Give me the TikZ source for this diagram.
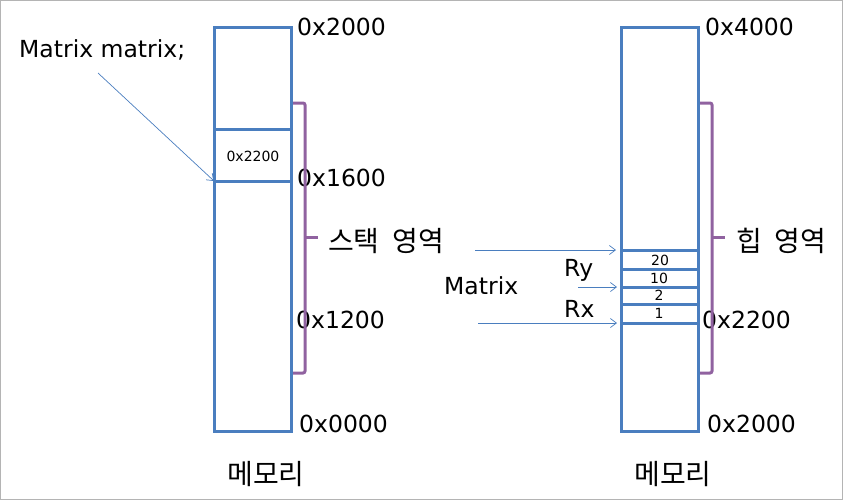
\documentclass[tikz,border=0pt]{standalone}
\usepackage{fontspec}
\setmainfont{DejaVu Sans}
\newfontfamily\kr[WordSpace=2]{Noto Sans CJK KR}
\usetikzlibrary{arrows.meta}
\definecolor{memblue}{HTML}{4A7EBF}
\definecolor{bracepurple}{HTML}{9062A0}
\definecolor{framegray}{HTML}{B4B4B4}

\begin{document}
\begin{tikzpicture}[x=1pt,y=-1pt,
    mem/.style={draw=memblue, line width=3pt, minimum width=77pt, minimum height=404pt, inner sep=0pt},
    cell/.style={draw=memblue, line width=3pt},
    brace/.style={draw=bracepurple, line width=3pt, rounded corners=2pt},
    ptr/.style={draw=memblue, line width=0.7pt, -{Straight Barb[length=6pt,width=9pt]}},
    big/.style={font=\fontsize{23.5}{26}\selectfont, inner sep=0pt, anchor=west},
    hangul/.style={font=\kr\fontsize{28}{32}\selectfont, inner sep=0pt},
    small/.style={font=\fontsize{14}{15}\selectfont, inner sep=0pt}]
        \useasboundingbox (0,0) rectangle (844,501);
        % Cadre
        \draw[framegray, line width=1pt] (0.5,0.5) rectangle (842.5,499.5);
        % Pile
        \node[mem] (stack) at (252.5,229) {};
        \draw[cell] (214,129) -- (291,129);
        \draw[cell] (214,181) -- (291,181);
        \node[small] (stackval) at (253,156) {0x2200};
        \node[big] (sa) at (297,27) {0x2000};
        \node[big] (sb) at (297,178) {0x1600};
        \node[big] (sc) at (296,320) {0x1200};
        \node[big] (sd) at (299,424) {0x0000};
        \node[hangul] (stackmem) at (266,474) {메모리};
        \draw[brace] (293,103) -- (305,103) -- (305,373) -- (293,373);
        \draw[brace] (305,237) -- (318,237);
        \node[hangul, anchor=west] (stackzone) at (328,241) {스택 영역};
        % Tas
        \node[mem] (heap) at (659.5,229) {};
        \foreach \y in {250,269,287,304,323}
            \draw[cell] (621,\y) -- (698,\y);
        \node[small] (v20) at (660,260) {20};
        \node[small] (v10) at (659,278) {10};
        \node[small] (v2) at (659,295) {2};
        \node[small] (v1) at (659,313) {1};
        \node[big] (ha) at (705,27) {0x4000};
        \node[big] (hb) at (702,320) {0x2200};
        \node[big] (hc) at (707,424) {0x2000};
        \node[hangul] (heapmem) at (673,474) {메모리};
        \draw[brace] (700,103) -- (712,103) -- (712,373) -- (700,373);
        \draw[brace] (712,237) -- (725,237);
        \node[hangul, anchor=west] (heapzone) at (736,241) {힙 영역};
        % Pointeurs
        \node[big] (decl) at (19,50) {Matrix matrix;};
        \node[big] (obj) at (444,286) {Matrix};
        \node[big] (ry) at (564,270) {Ry};
        \node[big] (rx) at (564,309) {Rx};
        \coordinate (declTail) at (98,73);
        \coordinate (slot) at (214,181);
        \draw[ptr] (declTail) -- (slot);
        \coordinate (objTail) at (475,250);
        \coordinate (objHead) at (616,250);
        \draw[ptr] (objTail) -- (objHead);
        \coordinate (ryTail) at (578,287);
        \coordinate (ryHead) at (617,287);
        \draw[ptr] (ryTail) -- (ryHead);
        \coordinate (rxTail) at (478,323);
        \coordinate (rxHead) at (617,323);
        \draw[ptr] (rxTail) -- (rxHead);
    \end{tikzpicture}
\end{document}
